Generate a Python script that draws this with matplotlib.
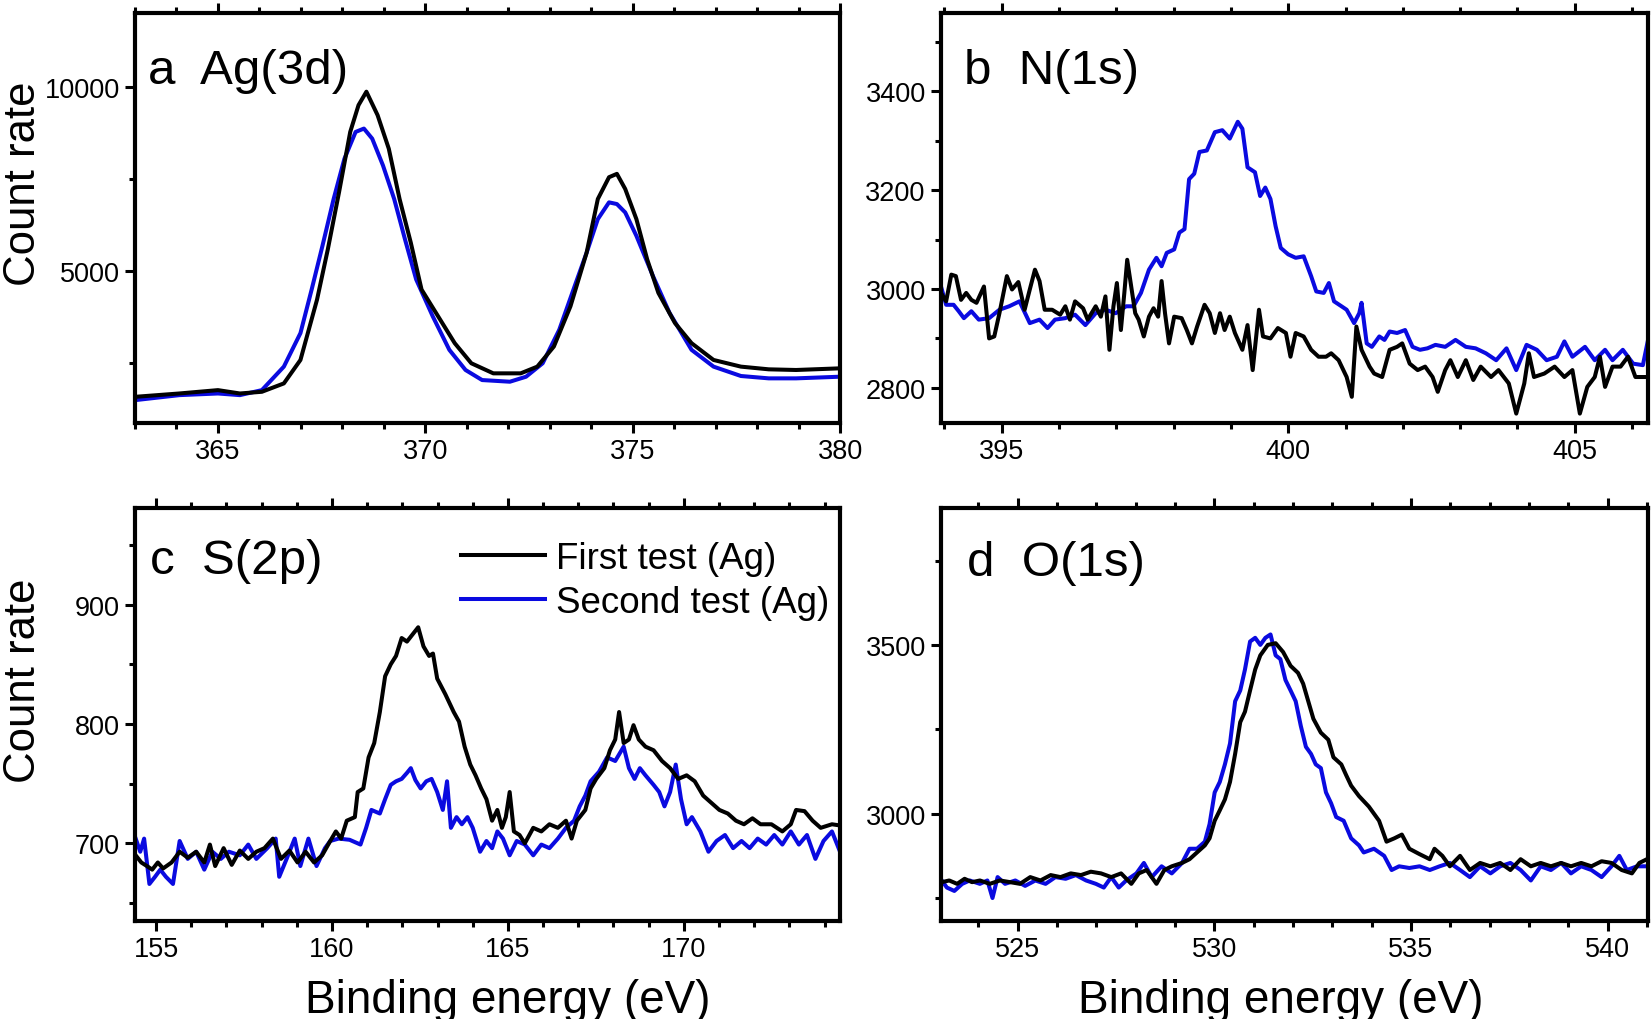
import numpy as np
import matplotlib
matplotlib.use('Agg')
import matplotlib.pyplot as plt
from matplotlib.ticker import MultipleLocator

plt.rcParams['font.family'] = ['Liberation Sans', 'DejaVu Sans']

# ---- a: Ag(3d) ----
ag_e_first = [363.0, 364.07, 365.0, 365.53, 366.06, 366.59, 366.99, 367.39, 367.65, 367.92,
              368.19, 368.39, 368.58, 368.85, 369.12, 369.38, 369.65, 369.91, 370.31, 370.71,
              371.11, 371.64, 372.30, 372.70, 373.10, 373.50, 373.89, 374.16, 374.43, 374.62,
              374.82, 375.09, 375.35, 375.62, 376.02, 376.42, 376.95, 377.61, 378.28, 378.94, 380.0]
ag_first = [1590, 1681, 1772, 1681, 1727, 1954, 2590, 4227, 5591, 7137,
            8774, 9500, 9865, 9228, 8319, 6955, 5773, 4500, 3772, 3045,
            2500, 2227, 2227, 2409, 2954, 4045, 5500, 6955, 7546, 7637,
            7228, 6409, 5318, 4409, 3591, 3045, 2590, 2409, 2336, 2318, 2363]
ag_e_second = [363.0, 364.07, 365.0, 365.53, 366.06, 366.59, 366.99, 367.26, 367.52, 367.79,
               368.05, 368.32, 368.52, 368.72, 368.98, 369.25, 369.51, 369.78, 370.18, 370.58,
               370.97, 371.37, 372.04, 372.43, 372.83, 373.23, 373.63, 373.89, 374.16, 374.43,
               374.62, 374.82, 375.09, 375.49, 375.89, 376.42, 376.95, 377.61, 378.28, 378.94, 380.0]
ag_second = [1500, 1636, 1681, 1636, 1772, 2409, 3318, 4500, 5682, 6955,
             8046, 8774, 8865, 8592, 7864, 6955, 5864, 4773, 3772, 2864,
             2318, 2045, 2000, 2136, 2500, 3409, 4682, 5500, 6409, 6864,
             6818, 6591, 5955, 4864, 3864, 2864, 2409, 2155, 2091, 2091, 2136]

# ---- b: N(1s) ----
n_e_first = [393.94, 394.03, 394.12, 394.20, 394.29, 394.38, 394.47, 394.56, 394.69, 394.78,
             394.87, 394.96, 395.09, 395.18, 395.29, 395.40, 395.49, 395.58, 395.66, 395.75,
             395.88, 396.02, 396.11, 396.19, 396.28, 396.42, 396.50, 396.64, 396.73, 396.81,
             396.88, 396.95, 397.01, 397.08, 397.14, 397.19, 397.26, 397.33, 397.39, 397.48,
             397.57, 397.65, 397.73, 397.79, 397.85, 397.92, 398.01, 398.14, 398.23, 398.32,
             398.41, 398.54, 398.63, 398.72, 398.81, 398.89, 398.98, 399.07, 399.20, 399.29,
             399.38, 399.49, 399.56, 399.69, 399.82, 399.96, 400.04, 400.13, 400.27, 400.40,
             400.53, 400.66, 400.75, 400.88, 401.02, 401.11, 401.19, 401.28, 401.42, 401.50,
             401.64, 401.77, 401.90, 401.99, 402.12, 402.26, 402.39, 402.52, 402.61, 402.74,
             402.83, 402.96, 403.10, 403.23, 403.36, 403.54, 403.67, 403.85, 403.98, 404.12,
             404.20, 404.29, 404.47, 404.65, 404.82, 404.96, 405.09, 405.22, 405.35, 405.44,
             405.53, 405.66, 405.80, 405.93, 406.06, 406.28]
n_first = [2992, 2975, 3029, 3026, 2978, 2992, 2978, 2972, 3005, 2900,
           2904, 2951, 3026, 2999, 3014, 2958, 2999, 3039, 3016, 2958,
           2958, 2948, 2965, 2938, 2975, 2961, 2938, 2965, 2944, 2985,
           2877, 2965, 3012, 2917, 2992, 3059, 3005, 2951, 2938, 2904,
           2944, 2961, 2944, 3016, 2951, 2890, 2944, 2941, 2917, 2890,
           2924, 2968, 2951, 2911, 2951, 2917, 2944, 2911, 2877, 2927,
           2836, 2958, 2904, 2900, 2921, 2911, 2863, 2911, 2904, 2877,
           2863, 2863, 2870, 2856, 2822, 2782, 2924, 2877, 2843, 2829,
           2822, 2877, 2883, 2890, 2849, 2836, 2843, 2822, 2792, 2836,
           2856, 2822, 2856, 2816, 2843, 2822, 2836, 2809, 2748, 2809,
           2870, 2822, 2829, 2843, 2822, 2836, 2748, 2802, 2822, 2863,
           2802, 2843, 2843, 2863, 2822, 2822]
n_e_second = [393.94, 394.03, 394.16, 394.25, 394.34, 394.47, 394.60, 394.78, 394.96, 395.13,
              395.31, 395.49, 395.66, 395.80, 395.93, 396.11, 396.28, 396.46, 396.64, 396.81,
              396.99, 397.17, 397.30, 397.43, 397.57, 397.70, 397.79, 397.88, 398.01, 398.10,
              398.19, 398.27, 398.36, 398.45, 398.58, 398.72, 398.85, 398.98, 399.12, 399.20,
              399.29, 399.42, 399.51, 399.60, 399.69, 399.78, 399.87, 400.00, 400.13, 400.27,
              400.40, 400.49, 400.62, 400.71, 400.80, 400.93, 401.02, 401.15, 401.24, 401.28,
              401.37, 401.46, 401.59, 401.68, 401.77, 401.90, 402.04, 402.17, 402.30, 402.43,
              402.57, 402.74, 402.92, 403.10, 403.27, 403.45, 403.63, 403.81, 403.98, 404.16,
              404.34, 404.51, 404.69, 404.82, 404.96, 405.18, 405.35, 405.53, 405.66, 405.84,
              406.02, 406.19, 406.28]
n_second = [3005, 2968, 2968, 2955, 2941, 2955, 2938, 2941, 2958, 2965,
            2975, 2931, 2938, 2921, 2938, 2941, 2948, 2927, 2951, 2958,
            2951, 2965, 2965, 2992, 3039, 3063, 3046, 3073, 3080, 3114,
            3121, 3222, 3233, 3277, 3280, 3317, 3321, 3304, 3338, 3324,
            3246, 3236, 3188, 3205, 3182, 3127, 3083, 3070, 3063, 3066,
            3026, 2995, 2992, 3012, 2975, 2965, 2958, 2931, 2951, 2972,
            2890, 2883, 2904, 2897, 2914, 2911, 2917, 2883, 2877, 2880,
            2887, 2883, 2897, 2883, 2880, 2870, 2856, 2880, 2836, 2887,
            2877, 2856, 2863, 2894, 2863, 2883, 2856, 2877, 2856, 2877,
            2849, 2846, 2897]

# ---- c: S(2p) ----
s_e_first = [154.42, 154.58, 154.74, 154.89, 155.05, 155.20, 155.44, 155.67, 155.90, 156.14,
             156.37, 156.53, 156.68, 156.92, 157.15, 157.38, 157.62, 157.85, 158.08, 158.32,
             158.55, 158.79, 159.02, 159.25, 159.49, 159.72, 159.95, 160.11, 160.26, 160.42,
             160.65, 160.73, 160.89, 161.04, 161.20, 161.36, 161.51, 161.67, 161.82, 161.98,
             162.13, 162.29, 162.45, 162.60, 162.76, 162.87, 162.99, 163.22, 163.46, 163.61,
             163.77, 163.93, 164.08, 164.24, 164.39, 164.55, 164.70, 164.83, 164.94, 165.05,
             165.17, 165.33, 165.48, 165.72, 165.95, 166.18, 166.42, 166.65, 166.81, 166.96,
             167.20, 167.35, 167.51, 167.74, 167.90, 168.05, 168.16, 168.29, 168.44, 168.57,
             168.72, 168.91, 169.14, 169.38, 169.61, 169.84, 170.08, 170.31, 170.55, 170.78,
             171.01, 171.25, 171.48, 171.71, 171.95, 172.18, 172.49, 172.80, 173.04, 173.19,
             173.43, 173.66, 173.89, 174.21, 174.44]
s_first = [690, 684, 681, 678, 684, 679, 684, 693, 688, 693,
           684, 699, 681, 696, 682, 694, 687, 693, 696, 704,
           687, 694, 684, 693, 684, 690, 702, 710, 704, 719,
           722, 743, 746, 772, 784, 810, 840, 850, 857, 872,
           869, 875, 881, 865, 857, 859, 838, 825, 810, 802,
           781, 766, 757, 746, 737, 719, 728, 713, 722, 743,
           710, 707, 700, 713, 710, 716, 713, 719, 704, 719,
           728, 746, 754, 763, 778, 787, 810, 784, 787, 799,
           787, 781, 778, 769, 763, 754, 757, 752, 740, 734,
           728, 725, 719, 716, 721, 716, 716, 710, 716, 728,
           727, 719, 713, 716, 715]
s_e_second = [154.42, 154.55, 154.66, 154.81, 154.97, 155.12, 155.28, 155.48, 155.67, 155.90,
              156.14, 156.37, 156.60, 156.84, 157.07, 157.38, 157.62, 157.85, 158.16, 158.40,
              158.50, 158.71, 158.94, 159.10, 159.33, 159.56, 159.80, 159.95, 160.19, 160.50,
              160.81, 160.97, 161.12, 161.36, 161.51, 161.67, 161.82, 161.98, 162.13, 162.24,
              162.37, 162.52, 162.68, 162.83, 162.99, 163.15, 163.27, 163.38, 163.54, 163.69,
              163.85, 164.00, 164.21, 164.39, 164.55, 164.70, 164.86, 165.05, 165.25, 165.48,
              165.72, 165.95, 166.18, 166.42, 166.65, 166.88, 167.04, 167.20, 167.35, 167.59,
              167.82, 168.05, 168.29, 168.44, 168.60, 168.75, 168.91, 169.14, 169.30, 169.45,
              169.61, 169.77, 169.92, 170.08, 170.23, 170.47, 170.70, 170.93, 171.17, 171.40,
              171.64, 171.87, 172.10, 172.34, 172.57, 172.80, 173.04, 173.27, 173.50, 173.74,
              173.97, 174.21, 174.44]
s_second = [704, 693, 704, 666, 672, 678, 672, 666, 702, 687,
            693, 678, 693, 687, 693, 690, 699, 687, 696, 704,
            672, 687, 704, 681, 704, 681, 696, 702, 704, 703,
            699, 713, 728, 725, 737, 749, 752, 754, 759, 763,
            753, 746, 752, 754, 743, 728, 752, 713, 722, 716,
            722, 713, 693, 702, 696, 710, 704, 690, 702, 699,
            690, 699, 696, 704, 713, 719, 731, 740, 752, 760,
            772, 769, 781, 763, 754, 763, 757, 749, 743, 731,
            743, 766, 737, 716, 722, 710, 693, 702, 707, 696,
            702, 696, 704, 699, 707, 699, 710, 699, 707, 687,
            702, 710, 693]

# ---- d: O(1s) ----
o_e_first = [523.07, 523.26, 523.46, 523.65, 523.84, 524.04, 524.29, 524.55, 524.81, 525.06,
             525.32, 525.58, 525.84, 526.09, 526.35, 526.61, 526.86, 527.12, 527.38, 527.63,
             527.89, 528.08, 528.28, 528.53, 528.73, 528.92, 529.18, 529.37, 529.56, 529.76,
             529.88, 530.01, 530.14, 530.27, 530.40, 530.53, 530.66, 530.78, 530.91, 531.04,
             531.17, 531.36, 531.56, 531.75, 531.94, 532.13, 532.26, 532.39, 532.52, 532.71,
             532.90, 533.03, 533.23, 533.35, 533.48, 533.68, 533.93, 534.19, 534.38, 534.58,
             534.77, 534.96, 535.22, 535.48, 535.60, 535.80, 535.99, 536.25, 536.50, 536.76,
             537.02, 537.27, 537.53, 537.79, 538.05, 538.30, 538.56, 538.82, 539.07, 539.33,
             539.59, 539.85, 540.10, 540.36, 540.62, 540.81, 541.00]
o_first = [2797, 2802, 2792, 2807, 2797, 2802, 2792, 2802, 2797, 2792,
           2812, 2802, 2818, 2812, 2823, 2818, 2828, 2823, 2812, 2823,
           2792, 2823, 2833, 2792, 2833, 2844, 2854, 2865, 2885, 2906,
           2927, 2979, 3010, 3042, 3094, 3177, 3271, 3302, 3365, 3427,
           3469, 3500, 3505, 3479, 3438, 3417, 3385, 3333, 3281, 3240,
           3219, 3167, 3146, 3115, 3083, 3052, 3021, 2979, 2917, 2927,
           2938, 2896, 2880, 2865, 2896, 2875, 2844, 2875, 2833, 2854,
           2844, 2854, 2833, 2865, 2844, 2854, 2844, 2854, 2844, 2854,
           2844, 2859, 2854, 2833, 2823, 2854, 2865]
o_e_second = [523.07, 523.20, 523.39, 523.59, 523.78, 524.04, 524.23, 524.36, 524.49, 524.68,
              524.94, 525.19, 525.45, 525.71, 525.96, 526.22, 526.48, 526.74, 526.99, 527.19,
              527.38, 527.57, 527.76, 528.02, 528.21, 528.41, 528.66, 528.92, 529.18, 529.37,
              529.56, 529.76, 529.88, 530.01, 530.14, 530.27, 530.40, 530.53, 530.66, 530.78,
              530.91, 531.04, 531.17, 531.30, 531.43, 531.56, 531.68, 531.81, 531.94, 532.07,
              532.20, 532.33, 532.46, 532.58, 532.71, 532.84, 532.97, 533.10, 533.29, 533.48,
              533.68, 533.80, 534.06, 534.32, 534.51, 534.70, 534.96, 535.22, 535.48, 535.73,
              535.99, 536.25, 536.50, 536.76, 537.02, 537.27, 537.53, 537.79, 538.05, 538.30,
              538.56, 538.82, 539.07, 539.33, 539.59, 539.85, 540.10, 540.30, 540.49, 540.75,
              541.00]
o_second = [2802, 2781, 2771, 2792, 2802, 2792, 2802, 2750, 2812, 2792,
            2802, 2786, 2802, 2792, 2812, 2807, 2818, 2802, 2792, 2781,
            2812, 2781, 2802, 2823, 2854, 2812, 2844, 2823, 2854, 2896,
            2896, 2917, 2969, 3063, 3094, 3146, 3208, 3333, 3365, 3427,
            3510, 3521, 3500, 3521, 3531, 3469, 3458, 3396, 3365, 3333,
            3260, 3198, 3177, 3146, 3135, 3063, 3031, 2990, 2979, 2927,
            2906, 2885, 2896, 2875, 2833, 2844, 2839, 2844, 2833, 2844,
            2854, 2833, 2812, 2844, 2823, 2844, 2854, 2833, 2802, 2844,
            2833, 2854, 2823, 2844, 2833, 2812, 2844, 2875, 2833, 2844,
            2844]

labels = ['First test (Ag)', 'Second test (Ag)']
c_first = 'black'
c_second = '#0a0ae0'
lw = 2.9

fig = plt.figure(figsize=(16.52, 10.2), dpi=100)
ax_a = fig.add_axes([0.0817, 0.5843, 0.4268, 0.402])
ax_b = fig.add_axes([0.5696, 0.5843, 0.4280, 0.402])
ax_c = fig.add_axes([0.0817, 0.0961, 0.4268, 0.405])
ax_d = fig.add_axes([0.5696, 0.0961, 0.4280, 0.405])


def style(ax, xlim, ylim, xmaj, ymaj, ymin):
    ax.set_xlim(*xlim)
    ax.set_ylim(*ylim)
    ax.xaxis.set_major_locator(MultipleLocator(xmaj))
    ax.xaxis.set_minor_locator(MultipleLocator(1))
    ax.yaxis.set_major_locator(MultipleLocator(ymaj))
    ax.yaxis.set_minor_locator(MultipleLocator(ymin))
    ax.tick_params(which='both', direction='out', top=True, right=False,
                   width=2.2, labelsize=19.5, pad=4)
    ax.tick_params(which='major', length=7)
    ax.tick_params(which='minor', length=4)
    for s in ax.spines.values():
        s.set_linewidth(3)


# second test under the first one
ax_a.plot(ag_e_second, ag_second, color=c_second, lw=lw)
ax_a.plot(ag_e_first, ag_first, color=c_first, lw=lw)
style(ax_a, (363, 380), (880, 12000), 5, 5000, 2500)

ax_b.plot(n_e_second, n_second, color=c_second, lw=lw)
ax_b.plot(n_e_first, n_first, color=c_first, lw=lw)
style(ax_b, (393.94, 406.28), (2729, 3558), 5, 200, 100)

ax_c.plot(s_e_second, s_second, color=c_second, lw=lw, label=labels[1])
ax_c.plot(s_e_first, s_first, color=c_first, lw=lw, label=labels[0])
style(ax_c, (154.4, 174.44), (635, 981), 5, 100, 50)

ax_d.plot(o_e_second, o_second, color=c_second, lw=lw)
ax_d.plot(o_e_first, o_first, color=c_first, lw=lw)
style(ax_d, (523.05, 541.03), (2682, 3906), 5, 500, 250)

h, l = ax_c.get_legend_handles_labels()
ax_c.legend(h[::-1], l[::-1], loc='upper left', bbox_to_anchor=(0.462, 0.92),
            frameon=False, fontsize=26.5, handlelength=2.3, handletextpad=0.3,
            labelspacing=0.25, borderpad=0, borderaxespad=0)

ax_a.text(0.018, 0.83, 'a  Ag(3d)', transform=ax_a.transAxes, fontsize=35.5, va='baseline')
ax_b.text(0.033, 0.83, 'b  N(1s)', transform=ax_b.transAxes, fontsize=35.5, va='baseline')
ax_c.text(0.022, 0.843, 'c  S(2p)', transform=ax_c.transAxes, fontsize=35.5, va='baseline')
ax_d.text(0.037, 0.838, 'd  O(1s)', transform=ax_d.transAxes, fontsize=35.5, va='baseline')

fig.text(24 / 1652, 0.8196, 'Count rate', rotation=90, ha='center', va='center', fontsize=31.5)
fig.text(24 / 1652, 0.3324, 'Count rate', rotation=90, ha='center', va='center', fontsize=31.5)
fig.text(508 / 1652, 0.007, 'Binding energy (eV)', ha='center', va='baseline', fontsize=33)
fig.text(1281 / 1652, 0.007, 'Binding energy (eV)', ha='center', va='baseline', fontsize=33)

fig.savefig('out.png', dpi=100)
